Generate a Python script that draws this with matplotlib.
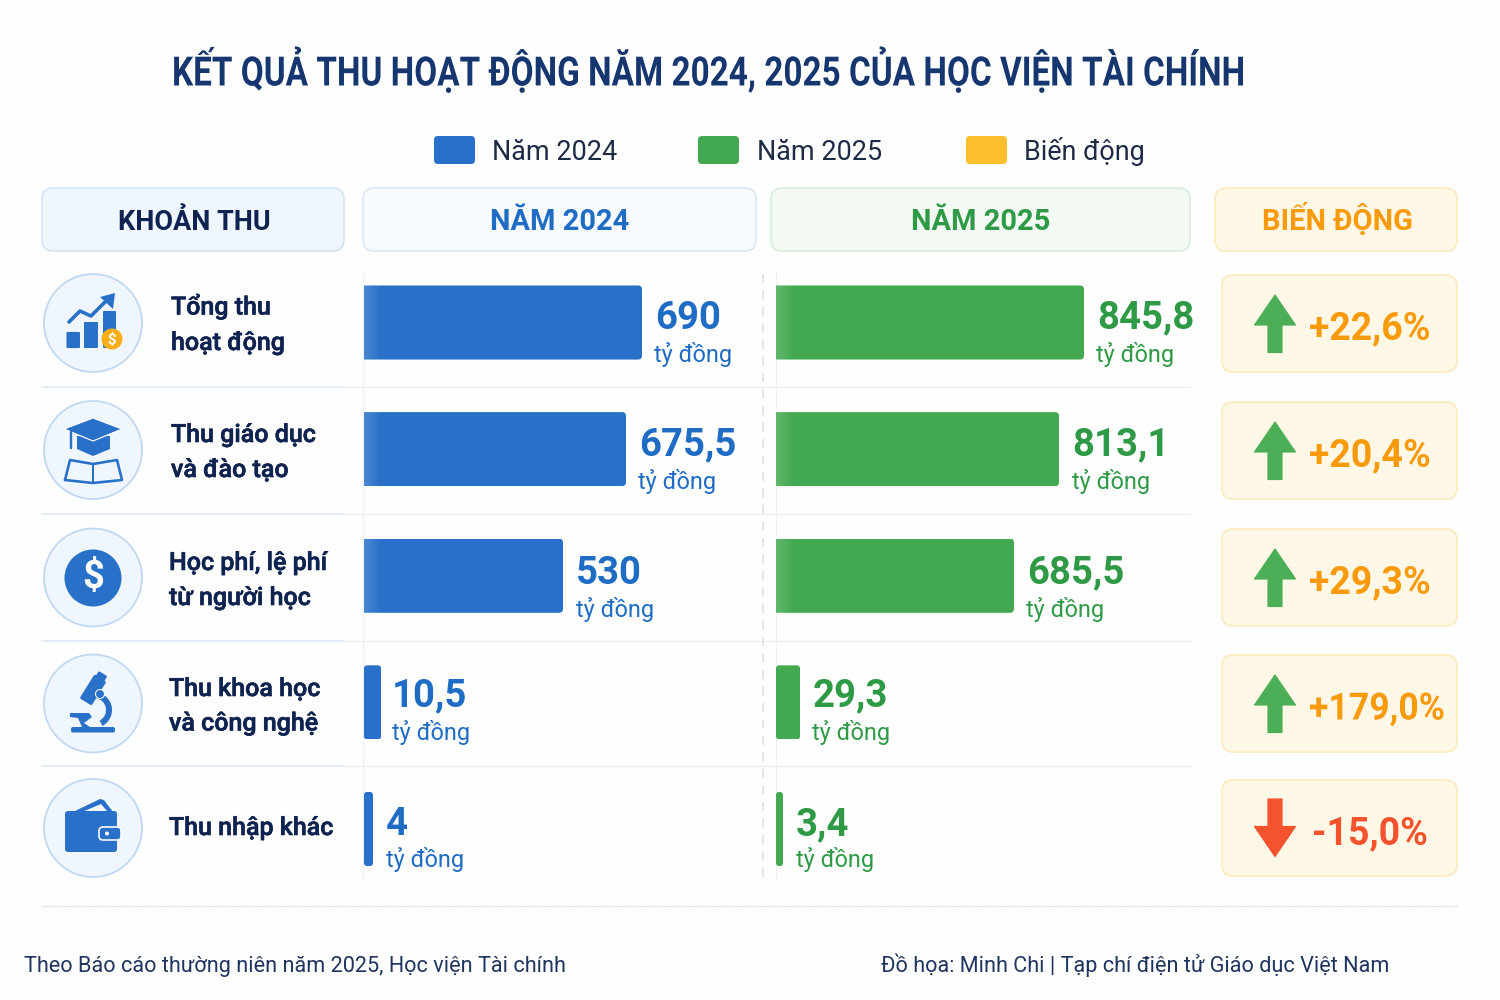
import numpy as np
import matplotlib
matplotlib.use("Agg")
import matplotlib.pyplot as plt
import matplotlib.patheffects as pe
from matplotlib.patches import FancyBboxPatch, Circle, Polygon, Wedge
from matplotlib.transforms import Affine2D

TITLE = "KẾT QUẢ THU HOẠT ĐỘNG NĂM 2024, 2025 CỦA HỌC VIỆN TÀI CHÍNH"
LEGEND_LABELS = ["Năm 2024", "Năm 2025", "Biến động"]
HEADERS = ["KHOẢN THU", "NĂM 2024", "NĂM 2025", "BIẾN ĐỘNG"]
CATEGORIES = ["Tổng thu\nhoạt động", "Thu giáo dục\nvà đào tạo", "Học phí, lệ phí\ntừ người học",
              "Thu khoa học\nvà công nghệ", "Thu nhập khác"]
VALUES_2024 = [690, 675.5, 530, 10.5, 4]
VALUES_2025 = [845.8, 813.1, 685.5, 29.3, 3.4]
CHANGES = [22.6, 20.4, 29.3, 179.0, -15.0]
UNIT = "tỷ đồng"
SOURCE = "Theo Báo cáo thường niên năm 2025, Học viện Tài chính"
CREDIT = "Đồ họa: Minh Chi | Tạp chí điện tử Giáo dục Việt Nam"

# The original bars are not proportional: these calibrate its non-linear value axes
SCALE_2024_VALUE = [0, 4, 10.5, 530, 675.5, 690, 1000]
SCALE_2024_LEN = [0, 9, 17, 199, 262, 278, 400]
SCALE_2025_VALUE = [0, 3.4, 29.3, 685.5, 813.1, 845.8, 1000]
SCALE_2025_LEN = [0, 7, 24, 238, 283, 308, 414]

BLUE, GREEN, AMBER, RED, NAVY = "#2870C8", "#43A950", "#F99A0B", "#F4532D", "#0F2350"
FONT = "Roboto"
px = 0.72  # points per pixel at dpi 100


class Squeeze(pe.AbstractPathEffect):
    """Draw a text narrower horizontally around a fixed x (display pixels)."""

    def __init__(self, sx, x0):
        super().__init__()
        self.sx, self.x0 = sx, x0

    def draw_path(self, renderer, gc, tpath, affine, rgbFace=None):
        t = affine + Affine2D().translate(-self.x0, 0).scale(self.sx, 1).translate(self.x0, 0)
        renderer.draw_path(gc, tpath, t, rgbFace)


def fmt(v):
    return f"{v:g}".replace(".", ",")


fig = plt.figure(figsize=(15, 10), dpi=100, facecolor="#FEFEFE")
bg = fig.add_axes([0, 0, 1, 1], zorder=0)
bg.set_xlim(0, 1500)
bg.set_ylim(1000, 0)
bg.axis("off")


def T(x, y, s, size, color=NAVY, weight="normal", ha="left", family=FONT, ax=bg):
    return ax.text(x, y, s, fontsize=size * px, color=color, fontweight=weight, ha=ha, va="baseline", family=family)


def box(x0, y0, x1, y1, r, fc, ec, lw=1.5, ax=bg, z=1):
    p = FancyBboxPatch((x0, y0), x1 - x0, y1 - y0, boxstyle=f"round,pad=0,rounding_size={r}",
                       fc=fc, ec=ec, lw=lw * px, zorder=z)
    ax.add_patch(p)
    return p


def poly(pts, fc=BLUE, ec="none", lw=0, z=3, closed=True):
    p = Polygon(pts, closed=closed, fc=fc, ec=ec, lw=lw * px, zorder=z, joinstyle="round")
    bg.add_patch(p)
    return p


def line(xs, ys, c=BLUE, lw=3, z=3, **kw):
    bg.plot(xs, ys, color=c, lw=lw * px, zorder=z, solid_capstyle=kw.pop("cap", "round"), **kw)


# title (real text, narrowed to the condensed look of the original)
title = T(708.5, 85.5, TITLE, 40.5, color="#15366F", weight="bold", ha="center")
natural = title.get_window_extent(fig.canvas.get_renderer()).width
title.set_path_effects([Squeeze(1073 / natural, 708.5)])

for x, label, c, tx in zip([434, 698, 966], LEGEND_LABELS, [BLUE, GREEN, "#FDC02D"], [492, 757, 1024]):
    box(x, 136, x + 41, 164, 4, c, "none", 0)
    T(tx, 160, label, 27, color="#1D2B45")

# header cells
cells = [(42, 344, "#F0F6FD", "#CFE2F7", NAVY, 194, 27), (363, 756, "#F8FBFE", "#D5E5F8", "#1F6CC4", 560, 29),
         (771, 1190, "#F3FAF4", "#D3ECD7", "#2E9A45", 981, 29), (1215, 1457, "#FFF8E7", "#FDE9B5", AMBER, 1338, 29)]
for (x0, x1, fc, ec, tc, cx, sz), h in zip(cells, HEADERS):
    box(x0, 188, x1, 251, 11, fc, ec)
    T(cx, 230, h, sz, color=tc, weight="bold", ha="center")

# grid lines
for y in [387, 514, 641, 766]:
    bg.plot([42, 343], [y, y], color="#DCE7F5", lw=1.5 * px, zorder=1)
    bg.plot([343, 1190], [y, y], color="#E6EDF7", lw=1.2 * px, zorder=1)
bg.plot([363, 363], [272, 878], color="#EDF0F4", lw=1.2 * px, zorder=1)
bg.plot([776, 776], [272, 878], color="#EDF0F4", lw=1.2 * px, zorder=1)
bg.plot([763, 763], [274, 878], color="#D9DCE3", lw=1.5 * px, ls=(0, (6, 5)), zorder=1)
bg.plot([42, 1457], [905.5, 905.5], color="#CFD3DA", lw=1.2 * px, ls=(0, (1, 1)), zorder=1)

# icons and labels
rows_y = [323, 450, 577.5, 703.5, 828]
label_x = [171, 171, 169, 169, 169]
base_y = [(314.5, 350), (442, 477), (570, 605), (696, 730.5), (835,)]
semi = [pe.withStroke(linewidth=0.45, foreground=NAVY)]
for cy, lx, bys, name in zip(rows_y, label_x, base_y, CATEGORIES):
    bg.add_patch(Circle((93, cy), 49, fc="#F0F6FD", ec="#BFD8F3", lw=1.8 * px, zorder=1))
    for by, part in zip(bys, name.split("\n")):
        T(lx, by, part, 25, weight="medium").set_path_effects(semi)

# icon 1: growth chart and coin
for x0, x1, y0 in [(66.5, 80, 332), (84, 98, 322), (103, 116, 311)]:
    box(x0, y0, x1, 348, 1, BLUE, "none", 0, z=3)
line([69, 80, 91, 108], [322, 311, 316, 299], lw=3.6)
poly([(115, 293), (113, 309), (100, 297)])
bg.add_patch(Circle((112, 339), 10.5, fc="#FBAE17", ec="none", zorder=4))
bg.text(112, 339.5, "$", color="white", fontsize=15 * px, fontweight="bold", ha="center", va="center", zorder=5, family=FONT)

# icon 2: graduation cap and book
poly([(77, 436), (110, 436), (110, 449), (93, 456), (77, 449)])
poly([(64, 429), (93, 418), (122, 429), (93, 441)], ec="white", lw=1.2, z=4)
line([71, 71], [432, 448], lw=2.4, z=4)
line([65, 70, 93, 117, 122, 93, 65], [480, 460, 464, 460, 480, 483, 480], lw=2.6)
line([93, 93], [464, 482], lw=2)

# icon 3: dollar coin
bg.add_patch(Circle((93, 578), 28.5, fc=BLUE, ec="none", zorder=3))
bg.text(93, 578, "$", color="white", fontsize=38 * px, fontweight="bold", ha="center", va="center", zorder=4, family=FONT)

# icon 4: microscope
box(71, 727, 115, 732.5, 2, BLUE, "none", 0, z=3)
bg.add_patch(Wedge((94, 710), 18, -88, 62, width=6, fc=BLUE, ec="none", zorder=3))
bg.add_patch(FancyBboxPatch((-7, -14), 14, 28, boxstyle="round,pad=0,rounding_size=1.5", fc=BLUE, ec="none", zorder=3,
                            transform=Affine2D().rotate_deg(32).translate(93, 690) + bg.transData))
bg.add_patch(FancyBboxPatch((-5, -4), 10, 8, boxstyle="round,pad=0,rounding_size=1.5", fc=BLUE, ec="none", zorder=3,
                            transform=Affine2D().rotate_deg(32).translate(101, 677) + bg.transData))
bg.add_patch(Circle((100, 694), 4.5, fc=BLUE, ec="white", lw=1 * px, zorder=4))
poly([(70, 713), (89, 713), (92, 717), (84, 723), (90, 727), (82, 727), (78, 718), (70, 717)])

# icon 5: wallet
poly([(73, 812), (100, 799), (104, 800), (113, 812), (108, 812), (101, 804), (82, 812)])
box(65, 811, 117, 852, 3, BLUE, "none", 0, z=3)
box(99, 827, 121, 840, 4, BLUE, "white", 1.6, z=4)
bg.add_patch(Circle((107, 833.5), 2, fc="white", ec="none", zorder=5))

# bar panels
y_top, y_bot = 259.2, 892.3
VAL_NUDGE = [0, 0, 2, -2, 0]
UNIT_NUDGE = [1, 2, 3, 0, 0]
gradients = []


def panel(x0, width, values, svals, slens, color, tcolor):
    ax = fig.add_axes([x0 / 1500, 1 - y_bot / 1000, width / 1500, (y_bot - y_top) / 1000], zorder=1)
    ax.patch.set_alpha(0)
    forward = lambda v: np.interp(v, svals, slens)
    inverse = lambda v: np.interp(v, slens, svals)
    ax.set_xscale("function", functions=(forward, inverse))
    ax.set_xlim(0, 1000)
    ax.set_ylim(4.5, -0.5)
    ax.axis("off")
    bars = ax.barh(range(len(values)), values, height=0.585, color=color)
    for i, (rect, v) in enumerate(zip(bars, values)):
        ext = rect.get_window_extent()
        big = ext.width > 40
        cx0, cx1, cy0, cy1 = ext.x0 - (10 if big else 0), ext.x1, 1000 - ext.y1, 1000 - ext.y0
        clip = FancyBboxPatch((cx0, cy0), cx1 - cx0, cy1 - cy0,
                              boxstyle=f"round,pad=0,rounding_size={4 if big else 3}",
                              transform=bg.transData)
        rect.set_clip_path(clip)
        dx = 10.5 if v == 10.5 else 13
        ax.annotate(fmt(v), (v, i), xytext=(dx, -6 - VAL_NUDGE[i]), textcoords="offset pixels", color=tcolor,
                    fontsize=38.3 * px, fontweight="bold", family=FONT, va="baseline")
        ax.annotate(UNIT, (v, i), xytext=(12.5 if v != 10.5 else 10.5, -38 - UNIT_NUDGE[i]), textcoords="offset pixels",
                    color=tcolor, fontsize=23.5 * px, family=FONT, va="baseline")
        if big:
            gradients.append((ext.x0, cy0, cy1))
    return ax


ax24 = panel(364, 400, VALUES_2024, SCALE_2024_VALUE, SCALE_2024_LEN, BLUE, "#1F6CC4")
ax25 = panel(776, 414, VALUES_2025, SCALE_2025_VALUE, SCALE_2025_LEN, GREEN, "#2E9A45")

# soft light fade at the left end of the long bars
top = fig.add_axes([0, 0, 1, 1], zorder=2)
top.axis("off")
grad = np.zeros((1, 18, 4))
grad[..., :3] = 1
grad[..., 3] = np.linspace(0.16, 0, 18)
for gx, g0, g1 in gradients:
    top.imshow(grad, extent=(gx, gx + 18, g1, g0), aspect="auto", interpolation="bilinear")
top.set_xlim(0, 1500)
top.set_ylim(1000, 0)

# change cells
cell_y = [(275, 372), (402, 499), (529, 626), (655, 752), (780, 876)]
for (y0, y1), ch in zip(cell_y, CHANGES):
    box(1222, y0, 1457, y1, 11, "#FFF8E7", "#FDE9B5")
    mid = (y0 + y1) / 2
    up = ch >= 0
    s = 1 if up else -1
    a = mid - s * 28.5
    col = "#4CAF57" if up else RED
    poly([(1275, a), (1295.5, a + s * 30), (1282, a + s * 30), (1282, a + s * 57.5), (1268, a + s * 57.5),
          (1268, a + s * 30), (1254.5, a + s * 30)], fc=col, ec=col, lw=1.2)
    label = (f"+{ch:.1f}%" if up else f"{ch:.1f}%").replace(".", ",")
    tx = 1309 if up else 1312
    t = T(tx, mid + 16, label, 37.5, color=AMBER if up else RED, weight="bold")
    if ch > 100:
        w = t.get_window_extent(fig.canvas.get_renderer()).width
        t.set_path_effects([Squeeze(136 / w, tx)])

# footer
T(24, 972, SOURCE, 21.7, color="#1F3560")
T(881, 972, CREDIT, 21.7, color="#1F3560")

fig.savefig("out.png", dpi=100, facecolor=fig.get_facecolor())
